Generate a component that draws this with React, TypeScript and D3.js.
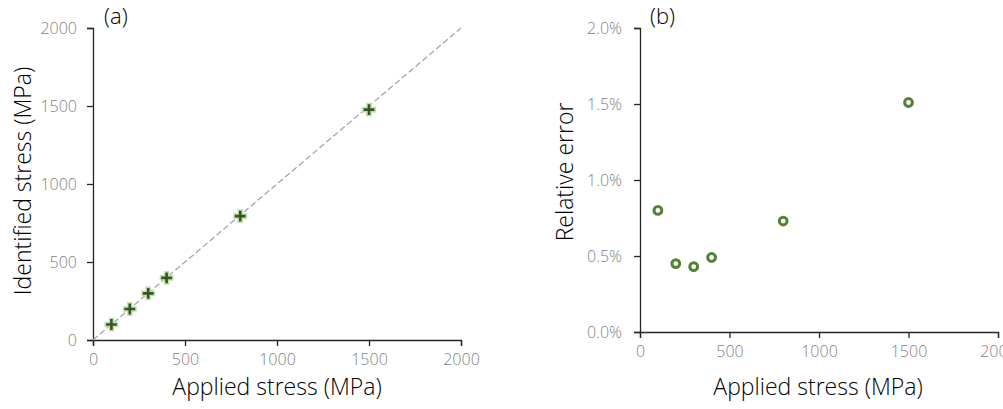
import * as d3 from 'd3';
import React, { useEffect, useRef } from 'react';

const applied = [100, 200, 300, 400, 800, 1500];
const identified = [99, 199, 299, 398, 794, 1477];
const relError = [0.008, 0.0045, 0.0043, 0.0049, 0.0073, 0.0151];
const stressTicks = [0, 500, 1000, 1500, 2000];
const errorTicks = [0, 0.005, 0.01, 0.015, 0.02];

const FONT = '"Open Sans", sans-serif';

function App() {
  const ref = useRef<SVGSVGElement>(null);

  useEffect(() => {
    const svg = d3.select(ref.current);
    svg.selectAll('*').remove();

    const styleAxis = (g: any) => {
      g.select('.domain').attr('stroke', '#262626').attr('stroke-width', 1.3);
      g.selectAll('.tick line').attr('stroke', '#262626').attr('stroke-width', 1.3);
      g.selectAll('.tick text')
        .attr('fill', '#7f7f7f')
        .style('font-family', FONT)
        .style('font-size', '16px')
        .style('font-weight', 300);
    };

    const title = (x: number, y: number, txt: string, rotate = false, anchor = 'middle', size = 23) => {
      svg.append('text')
        .attr('transform', rotate ? `translate(${x},${y}) rotate(-90)` : `translate(${x},${y})`)
        .attr('text-anchor', anchor)
        .style('font-family', FONT).style('font-size', `${size}px`).style('font-weight', 300)
        .attr('fill', '#000')
        .text(txt);
    };

    // ---- chart (a)
    const xa = d3.scaleLinear().domain([0, 2000]).range([93, 461]);
    const ya = d3.scaleLinear().domain([0, 2000]).range([340, 28]);

    svg.append('g')
      .attr('transform', `translate(0,${ya(0)})`)
      .call(d3.axisBottom(xa).tickValues(stressTicks).tickFormat(d3.format('d')).tickSize(6).tickSizeOuter(6).tickPadding(8))
      .call(styleAxis);
    svg.append('g')
      .attr('transform', `translate(${xa(0)},0)`)
      .call(d3.axisLeft(ya).tickValues(stressTicks).tickFormat(d3.format('d')).tickSize(6).tickSizeOuter(6).tickPadding(10))
      .call(styleAxis);

    svg.append('line')
      .attr('x1', xa(0)).attr('y1', ya(0))
      .attr('x2', xa(2000)).attr('y2', ya(2000))
      .attr('stroke', '#a6a6a6')
      .attr('stroke-width', 1.3)
      .attr('stroke-dasharray', '6,3');

    const cross = d3.symbol().type(d3.symbolCross).size(85);
    svg.selectAll('.pa')
      .data(applied)
      .join('path')
      .attr('class', 'pa')
      .attr('transform', (d, i) => `translate(${xa(d)},${ya(identified[i])})`)
      .attr('d', cross())
      .attr('fill', '#375623')
      .attr('stroke', '#c5e0b4')
      .attr('stroke-width', 1.5);

    title(277, 395, 'Applied stress (MPa)');
    title(31, 181, 'Identified stress (MPa)', true);
    title(104, 24, '(a)', false, 'start', 22);

    // ---- chart (b)
    const xb = d3.scaleLinear().domain([0, 2000]).range([640, 998]);
    const yb = d3.scaleLinear().domain([0, 0.02]).range([332, 28]);

    svg.append('g')
      .attr('transform', `translate(0,${yb(0)})`)
      .call(d3.axisBottom(xb).tickValues(stressTicks).tickFormat(d3.format('d')).tickSize(6).tickSizeOuter(6).tickPadding(8))
      .call(styleAxis);
    svg.append('g')
      .attr('transform', `translate(${xb(0)},0)`)
      .call(d3.axisLeft(yb).tickValues(errorTicks).tickFormat(d3.format('.1%')).tickSize(6).tickSizeOuter(6).tickPadding(12))
      .call(styleAxis);

    svg.selectAll('.pb')
      .data(applied)
      .join('circle')
      .attr('class', 'pb')
      .attr('cx', d => xb(d))
      .attr('cy', (d, i) => yb(relError[i]))
      .attr('r', 3.9)
      .attr('fill', '#fff')
      .attr('stroke', '#548235')
      .attr('stroke-width', 3);

    title(818, 395, 'Applied stress (MPa)');
    title(573, 172, 'Relative error', true);
    title(650, 24, '(b)', false, 'start', 22);
  }, []);

  return (
    <svg
      ref={ref}
      width={1003}
      height={409}
      style={{ position: 'absolute', left: 0, top: 0, background: '#fff' }}
    />
  );
}

export default App;
